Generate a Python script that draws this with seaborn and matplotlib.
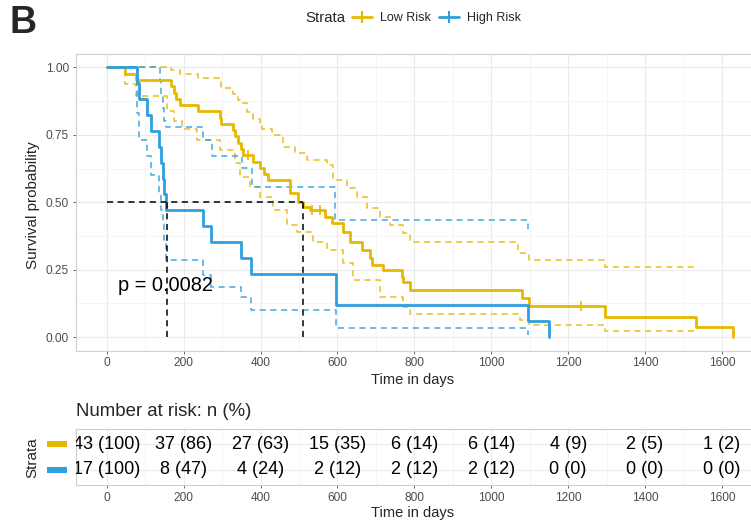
import numpy as np
import pandas as pd
import matplotlib
matplotlib.use("Agg")
import matplotlib.pyplot as plt
from matplotlib.lines import Line2D
from matplotlib.patches import Rectangle
import matplotlib.transforms as mtransforms
import seaborn as sns

# ---------------- data ----------------
low_time = [0, 47, 75, 168, 174, 180, 190, 237, 294, 298, 328, 334, 342, 350, 355, 380, 398,
            410, 418, 476, 497, 510, 528, 567, 585, 614, 632, 663, 684, 689, 718, 767, 770,
            788, 1080, 1098, 1295, 1532, 1628]
low_surv = [1.0, 0.977, 0.953, 0.930, 0.907, 0.884, 0.860, 0.837, 0.814, 0.791, 0.767, 0.744,
            0.721, 0.698, 0.675, 0.651, 0.628, 0.605, 0.584, 0.535, 0.502, 0.483, 0.472, 0.446,
            0.424, 0.390, 0.353, 0.323, 0.294, 0.268, 0.249, 0.223, 0.205, 0.175, 0.145, 0.115,
            0.074, 0.037, 0.0]
low_up_time = [0, 168, 190, 237, 294, 298, 328, 342, 351, 364, 380, 398, 403, 429, 458, 489,
               520, 572, 588, 624, 650, 676, 710, 736, 770, 788, 1069, 1098, 1295, 1532]
low_up = [1.0, 0.99, 0.975, 0.96, 0.95, 0.925, 0.90, 0.88, 0.87, 0.833, 0.81, 0.79, 0.77, 0.75,
          0.706, 0.684, 0.658, 0.64, 0.584, 0.553, 0.52, 0.48, 0.446, 0.416, 0.387, 0.353,
          0.312, 0.286, 0.26, 0.26]
low_lo_time = [0, 47, 75, 156, 176, 195, 234, 294, 334, 346, 372, 398, 432, 468, 494, 536,
               572, 614, 640, 710, 770, 788, 1075, 1098, 1295, 1532]
low_lo = [1.0, 0.937, 0.896, 0.837, 0.80, 0.77, 0.732, 0.695, 0.647, 0.595, 0.558, 0.52, 0.472,
          0.416, 0.39, 0.353, 0.323, 0.275, 0.212, 0.149, 0.112, 0.085, 0.063, 0.045, 0.022,
          0.022]
low_censor = [367, 533, 554, 1233]

high_time = [0, 78, 83, 104, 114, 136, 142, 146, 150, 155, 250, 270, 350, 374, 595, 1096, 1150]
high_surv = [1.0, 0.941, 0.882, 0.824, 0.765, 0.706, 0.647, 0.588, 0.529, 0.471, 0.412, 0.353,
             0.294, 0.235, 0.118, 0.059, 0.0]
high_up_time = [0, 138, 142, 146, 150, 155, 250, 273, 351, 377, 593, 1096]
high_up = [1.0, 0.95, 0.90, 0.85, 0.80, 0.78, 0.732, 0.673, 0.628, 0.558, 0.435, 0.40]
high_lo_time = [0, 78, 83, 104, 114, 136, 142, 146, 150, 155, 250, 270, 350, 374, 595, 1096]
high_lo = [1.0, 0.83, 0.73, 0.67, 0.60, 0.53, 0.47, 0.42, 0.36, 0.286, 0.23, 0.186, 0.149,
           0.10, 0.033, 0.008]

median_times = [156, 510]
p_text = "p = 0.0082"

risk_times = [0, 200, 400, 600, 800, 1000, 1200, 1400, 1600]
low_n = [43, 37, 27, 15, 6, 6, 4, 2, 1]
low_pct = [100, 86, 63, 35, 14, 14, 9, 5, 2]
high_n = [17, 8, 4, 2, 2, 2, 0, 0, 0]
high_pct = [100, 47, 24, 12, 12, 12, 0, 0, 0]

strata = ["Low Risk", "High Risk"]
colors = {"Low Risk": "#E7B800", "High Risk": "#2E9FDF"}

# ---------------- style ----------------
sns.set_theme(style="whitegrid")
plt.rcParams["font.family"] = ["Liberation Sans", "DejaVu Sans"]

W, H = 751, 522
fig = plt.figure(figsize=(W / 100, H / 100), dpi=100)
fig.patch.set_facecolor("white")

x0, x1 = 75.5, 764.0
ax = fig.add_axes([x0 / W, 1 - 350.5 / H, (x1 - x0) / W, (350.5 - 54) / H])
ax2 = fig.add_axes([x0 / W, 1 - 485 / H, (x1 - x0) / W, 56 / H])
XLIM = (-81.4, 1709.4)


def style_axes(a):
    a.set_facecolor("white")
    a.set_xlim(*XLIM)
    a.set_xticks(risk_times)
    a.set_xticks(np.arange(100, 1700, 200), minor=True)
    a.grid(True, which="major", color="#EBEBEB", lw=0.8)
    a.grid(True, which="minor", color="#F2F2F2", lw=0.5)
    for s in a.spines.values():
        s.set_color("#CFCFCF")
        s.set_linewidth(0.8)
    a.tick_params(axis="both", which="major", length=2.5, width=0.6, color="#4D4D4D",
                  labelsize=8.6, labelcolor="#4D4D4D", pad=2.2, bottom=True, left=True)
    a.tick_params(axis="both", which="minor", length=0)
    a.set_axisbelow(True)


style_axes(ax)
ax.set_ylim(-0.05, 1.05)
ax.set_yticks([0, 0.25, 0.5, 0.75, 1.0])
ax.set_yticks([0.125, 0.375, 0.625, 0.875], minor=True)
ax.set_yticklabels(["0.00", "0.25", "0.50", "0.75", "1.00"])
ax.set_xticklabels([str(t) for t in risk_times])

curves = {
    "Low Risk": (low_time, low_surv, low_up_time, low_up, low_lo_time, low_lo),
    "High Risk": (high_time, high_surv, high_up_time, high_up, high_lo_time, high_lo),
}

# confidence bands (dashed)
for name in strata:
    t, s, tu, su, tl, sl = curves[name]
    for tt, ss in ((tu, su), (tl, sl)):
        df = pd.DataFrame({"time": tt, "surv": ss})
        sns.lineplot(data=df, x="time", y="surv", ax=ax, color=colors[name], lw=1.1,
                     linestyle=(0, (4, 3)), drawstyle="steps-post", estimator=None,
                     sort=False, legend=False, alpha=0.9)

# survival curves
for name in strata:
    t, s = curves[name][0], curves[name][1]
    df = pd.DataFrame({"time": t, "surv": s})
    sns.lineplot(data=df, x="time", y="surv", ax=ax, color=colors[name], lw=2.0,
                 drawstyle="steps-post", estimator=None, sort=False, legend=False)

# censor marks
ct = np.array(low_censor)
idx = np.searchsorted(np.array(low_time), ct, side="right") - 1
cs = np.array(low_surv)[idx]
ax.plot(ct, cs, ls="none", marker="|", ms=7, mew=1.2, color=colors["Low Risk"])

# median lines
ax.hlines(0.5, 0, max(median_times), colors="black", lw=1.1, linestyles=(0, (4, 3)))
ax.vlines(median_times, 0, 0.5, colors="black", lw=1.1, linestyles=(0, (4, 3)))

ax.text(29, 0.193, p_text, ha="left", va="center", fontsize=14.4, color="black")
ax.set_xlabel("")
ax.set_ylabel("")

# ---------------- risk table ----------------
style_axes(ax2)
ax2.set_ylim(0.4, 2.6)
ax2.set_yticks([1, 2])
ax2.set_yticklabels(["", ""])
ax2.tick_params(axis="y", length=0)
ax2.set_xticklabels([str(t) for t in risk_times])
ax2.set_xlabel("")
ax2.set_ylabel("")
rows = {"Low Risk": (2, low_n, low_pct), "High Risk": (1, high_n, high_pct)}
for name in strata:
    r, ns, ps = rows[name]
    for t, n, p in zip(risk_times, ns, ps):
        ax2.text(t, r, f"{n} ({p})", ha="center", va="center", fontsize=13,
                 color="black", clip_on=True)
    trans = mtransforms.blended_transform_factory(ax2.transAxes, ax2.transData)
    ax2.add_patch(Rectangle((-(x0 - 47) / (x1 - x0), r - 0.12), 20 / (x1 - x0), 0.24,
                            transform=trans, clip_on=False, color=colors[name], lw=0))

# ---------------- texts ----------------
fig.text(10 / W, 1 - 5 / H, "B", fontsize=27, fontweight="bold", ha="left", va="top")
fig.text(33 / W, 1 - 205 / H, "Survival probability", rotation=90, ha="center",
         va="center", fontsize=11)
fig.text(413 / W, 1 - 380 / H, "Time in days", ha="center", va="center", fontsize=10.5)
fig.text(76 / W, 1 - 411 / H, "Number at risk: n (%)", ha="left", va="center", fontsize=13.4)
fig.text(32 / W, 1 - 458 / H, "Strata", rotation=90, ha="center", va="center", fontsize=11)
fig.text(413 / W, 1 - 513 / H, "Time in days", ha="center", va="center", fontsize=10.5)

# legend
fig.text(345 / W, 1 - 18 / H, "Strata", ha="right", va="center", fontsize=10.8)
handles = [Line2D([], [], color=colors[n], lw=2.0, marker="|", ms=8, mew=1.5) for n in strata]
fig.legend(handles, strata, ncol=2, loc="center left", bbox_to_anchor=(352 / W, 1 - 18 / H),
           frameon=False, fontsize=9, handlelength=1.6, handletextpad=0.6,
           columnspacing=0.7, borderaxespad=0, borderpad=0)

fig.savefig("out.png", dpi=100, facecolor="white")
